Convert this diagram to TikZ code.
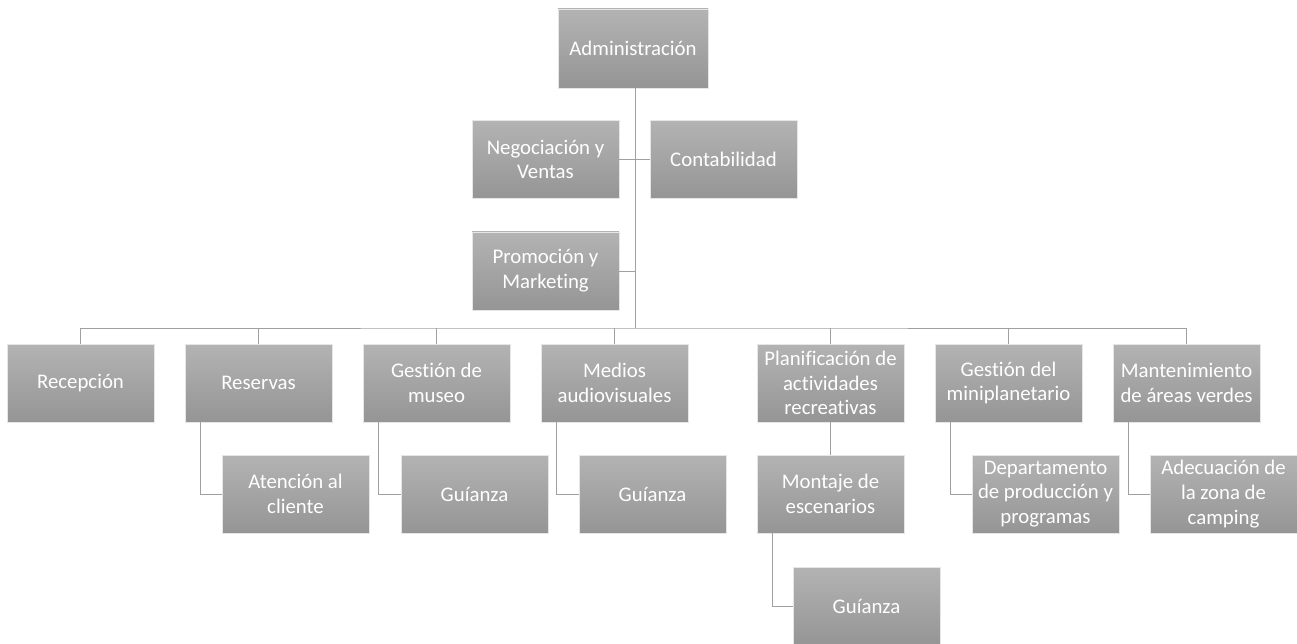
\documentclass[tikz,border=0pt]{standalone}
\usepackage{fontspec}
\setmainfont{Carlito}[RawFeature={-liga;-clig}]
\usetikzlibrary{calc}
\definecolor{boxtop}{HTML}{B3B3B3}
\definecolor{boxbot}{HTML}{959595}
\definecolor{boxedge}{HTML}{E6E6E6}
\definecolor{wire}{HTML}{A0A0A0}
\begin{document}
\begin{tikzpicture}[x=1pt,y=-1pt,
  unit/.style={rectangle, draw=boxedge, line width=0.8pt,
    top color=boxtop, bottom color=boxbot, text=white,
    minimum width=147pt, minimum height=78pt, inner sep=1pt,
    align=center, font=\fontsize{20.8}{24.8}\selectfont},
  wide/.style={minimum width=150pt, minimum height=79pt},
  link/.style={draw=wire, line width=1pt}]
\useasboundingbox (0,0) rectangle (1297,644);
\fill[white] (0,0) rectangle (1297,644);

% top management and staff units
\node[unit,wide] (adm) at (633,48.5) {Administración};
\node[unit] (neg) at (545.5,159.5) {Negociación y\\Ventas};
\node[unit] (cont) at (723.5,159.5) {Contabilidad};
\node[unit] (prom) at (545.5,271) {Promoción y\\Marketing};

% departments
\node[unit] (rec)  at (80.5,383)   {Recepción};
\node[unit] (res)  at (258.5,383)  {Reservas};
\node[unit] (mus)  at (436.5,383)  {Gestión de\\museo};
\node[unit] (med)  at (614.5,383)  {Medios\\audiovisuales};
\node[unit] (plan) at (830.5,383)  {Planificación de\\actividades\\recreativas};
\node[unit] (gest) at (1008.5,383) {Gestión del\\miniplanetario};
\node[unit] (mant) at (1186.5,383) {Mantenimiento\\de áreas verdes};

% sub-units
\node[unit] (aten)  at (295.5,494)  {Atención al\\cliente};
\node[unit] (guia1) at (474.5,494)  {Guíanza};
\node[unit] (guia2) at (652.5,494)  {Guíanza};
\node[unit] (mont)  at (830.5,494)  {Montaje de\\escenarios};
\node[unit] (dep)   at (1045.5,494) {Departamento\\de producción y\\programas};
\node[unit] (adec)  at (1223.5,494) {Adecuación de\\la zona de\\camping};
\node[unit] (guia3) at (866.5,606)  {Guíanza};

% trunk and bus
\coordinate (busmid) at ($(adm.south)+(2,0)$);
\coordinate (bus) at (busmid |- 0,328);
\draw[link] (busmid) -- (bus);
\draw[link] (neg.east) -- (cont.west);
\draw[link] (prom.east) -- (prom.east -| bus);
\draw[link] (rec.north) |- (bus) -| (mant.north);
\foreach \n in {res,mus,med,plan,gest}
  \draw[link] (\n.north) -- (\n.north |- bus);

% sub-unit connectors
\draw[link] ($(res.south west)+(16,0)$) |- (aten.west);
\draw[link] ($(mus.south west)+(16,0)$) |- (guia1.west);
\draw[link] ($(med.south west)+(16,0)$) |- (guia2.west);
\draw[link] (plan.south) -- (mont.north);
\draw[link] ($(mont.south west)+(16,0)$) |- (guia3.west);
\draw[link] ($(gest.south west)+(16,0)$) |- (dep.west);
\draw[link] ($(mant.south west)+(16,0)$) |- (adec.west);
\end{tikzpicture}
\end{document}
